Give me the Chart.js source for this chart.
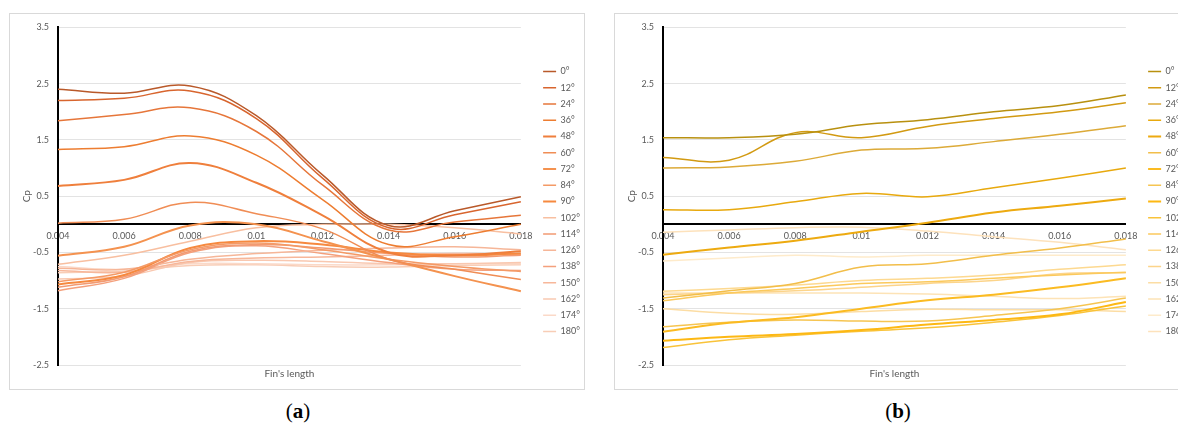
<!DOCTYPE html>
<html>
<head>
<meta charset="utf-8">
<script src="https://cdn.jsdelivr.net/npm/chart.js@4/dist/chart.umd.min.js"></script>
<style>
  html, body { margin: 0; padding: 0; background: #fff; }
  body { width: 1178px; height: 430px; overflow: hidden; position: relative; }
  .frame { position: absolute; top: 13px; width: 576px; height: 377px; box-sizing: border-box; border: 1px solid #D9D9D9; }
  .holder { position: absolute; top: 13px; width: 581px; height: 377px; }
  .cap { position: absolute; top: 399px; width: 60px; margin-left: -30px; text-align: center;
         font-family: "Liberation Serif", "DejaVu Serif", serif; font-size: 21px; color: #000; }
  .cap b { font-weight: bold; }
</style>
</head>
<body>
<div class="frame" style="left:9px"></div>
<div class="frame" style="left:614px"></div>
<div class="holder" style="left:9px"><canvas id="chartA" width="581" height="377"></canvas></div>
<div class="holder" style="left:614px"><canvas id="chartB" width="581" height="377"></canvas></div>
<div class="cap" style="left:298px">(<b>a</b>)</div>
<div class="cap" style="left:898px">(<b>b</b>)</div>

<script>
// Fin length positions (category axis) and pressure-coefficient gridline values
const finLength = ['0.004', '0.006', '0.008', '0.01', '0.012', '0.014', '0.016', '0.018'];
const cpTicks = [-2.5, -1.5, -0.5, 0.5, 1.5, 2.5, 3.5];
const angles = ['0°', '12°', '24°', '36°', '48°', '60°', '72°', '84°', '90°',
                '102°', '114°', '126°', '138°', '150°', '162°', '174°', '180°'];

// (a) Cp along the fin for each angle
const cpA0   = [2.40, 2.33, 2.46, 1.93, 0.88, -0.02, 0.24, 0.49];
const cpA12  = [2.20, 2.24, 2.37, 1.88, 0.82, -0.06, 0.17, 0.40];
const cpA24  = [1.84, 1.95, 2.07, 1.65, 0.70, -0.10, 0.04, 0.16];
const cpA36  = [1.33, 1.38, 1.57, 1.23, 0.44, -0.36, -0.22, 0.00];
const cpA48  = [0.68, 0.79, 1.09, 0.74, 0.16, -0.50, -0.55, -0.48];
const cpA60  = [0.02, 0.09, 0.39, 0.19, -0.08, -0.62, -0.80, -0.98];
const cpA72  = [-0.56, -0.40, -0.02, 0.00, -0.30, -0.62, -0.92, -1.19];
const cpA84  = [-1.02, -0.85, -0.45, -0.33, -0.45, -0.62, -0.75, -0.84];
const cpA90  = [-1.07, -0.90, -0.42, -0.30, -0.36, -0.50, -0.55, -0.52];
const cpA102 = [-0.71, -0.55, -0.30, -0.06, 0.00, 0.00, -0.06, -0.17];
const cpA114 = [-1.12, -0.93, -0.48, -0.36, -0.42, -0.52, -0.58, -0.55];
const cpA126 = [-0.78, -0.80, -0.62, -0.52, -0.46, -0.42, -0.40, -0.45];
const cpA138 = [-1.18, -0.96, -0.50, -0.38, -0.52, -0.68, -0.80, -0.82];
const cpA150 = [-0.82, -0.85, -0.66, -0.60, -0.58, -0.55, -0.52, -0.53];
const cpA162 = [-0.97, -0.92, -0.68, -0.64, -0.66, -0.70, -0.70, -0.68];
const cpA174 = [-0.75, -0.80, -0.70, -0.70, -0.72, -0.72, -0.70, -0.70];
const cpA180 = [-0.86, -0.83, -0.73, -0.72, -0.75, -0.76, -0.73, -0.72];

// (b) Cp along the fin for each angle
const cpB0   = [1.54, 1.54, 1.60, 1.77, 1.86, 2.00, 2.11, 2.30];
const cpB12  = [1.19, 1.14, 1.63, 1.54, 1.74, 1.88, 2.00, 2.16];
const cpB24  = [1.00, 1.02, 1.12, 1.32, 1.35, 1.47, 1.60, 1.75];
const cpB36  = [0.26, 0.26, 0.40, 0.55, 0.49, 0.65, 0.82, 1.00];
const cpB48  = [-0.54, -0.41, -0.29, -0.13, 0.03, 0.21, 0.33, 0.46];
const cpB60  = [-1.31, -1.18, -1.05, -0.76, -0.70, -0.55, -0.42, -0.26];
const cpB72  = [-1.91, -1.75, -1.65, -1.50, -1.35, -1.25, -1.12, -0.96];
const cpB84  = [-1.82, -1.74, -1.70, -1.72, -1.72, -1.62, -1.50, -1.31];
const cpB90  = [-2.07, -2.00, -1.95, -1.88, -1.78, -1.70, -1.60, -1.38];
const cpB102 = [-2.19, -2.05, -1.97, -1.90, -1.84, -1.74, -1.62, -1.45];
const cpB114 = [-1.36, -1.22, -1.14, -1.05, -1.02, -0.96, -0.90, -0.85];
const cpB126 = [-1.19, -1.14, -1.08, -1.00, -0.96, -0.90, -0.80, -0.72];
const cpB138 = [-1.25, -1.22, -1.18, -1.12, -1.05, -1.00, -0.88, -0.86];
const cpB150 = [-1.50, -1.58, -1.60, -1.55, -1.51, -1.52, -1.52, -1.55];
const cpB162 = [-1.22, -1.22, -1.22, -1.22, -1.24, -1.28, -1.32, -1.28];
const cpB174 = [-0.65, -0.60, -0.55, -0.58, -0.55, -0.55, -0.55, -0.55];
const cpB180 = [-0.14, -0.10, -0.06, -0.05, -0.12, -0.22, -0.32, -0.45];

const seriesA = [cpA0, cpA12, cpA24, cpA36, cpA48, cpA60, cpA72, cpA84, cpA90,
                 cpA102, cpA114, cpA126, cpA138, cpA150, cpA162, cpA174, cpA180];
const seriesB = [cpB0, cpB12, cpB24, cpB36, cpB48, cpB60, cpB72, cpB84, cpB90,
                 cpB102, cpB114, cpB126, cpB138, cpB150, cpB162, cpB174, cpB180];

const orangeShades = ['#B9592A', '#D8652E', '#E6763A', '#ED7D31', '#EF7F3C', '#F08D55', '#F4924F', '#F49A66', '#F6893F',
                      '#F8BFA0', '#F29A72', '#F6B698', '#F4A07C', '#F7B79A', '#F9C8B0', '#FBD9C8', '#F8CDB6'];
const goldShades   = ['#B8900F', '#D29A12', '#DCAA38', '#E8A90E', '#EDAA10', '#F2BE4A', '#FBBB22', '#F6C552', '#FDB813',
                      '#F9C33A', '#FBC95C', '#FDD990', '#FCD48A', '#FCDDA4', '#FDE3B6', '#FEEBCB', '#FDE2BC'];
const lineWidths   = [1.5, 1.5, 1.5, 1.5, 2, 1.5, 2, 1.5, 2, 1.5, 1.5, 1.5, 1.5, 1.5, 1.5, 1.5, 1.5];

const FONT = 'Lato, "Open Sans", sans-serif';
const GREY_TEXT = '#595959';
Chart.defaults.font.family = FONT;
Chart.defaults.color = GREY_TEXT;

// Axis titles: "Cp" centred on the value axis, "Fin's length" under the plot
const axisTitles = {
  id: 'axisTitles',
  afterDraw(chart) {
    const { ctx, chartArea: a } = chart;
    ctx.save();
    ctx.fillStyle = GREY_TEXT;
    ctx.font = '10px ' + FONT;
    ctx.textAlign = 'center';
    ctx.textBaseline = 'middle';
    ctx.fillText("Fin's length", (a.left + a.right) / 2, a.bottom + 9);
    ctx.translate(18, (a.top + a.bottom) / 2);
    ctx.rotate(-Math.PI / 2);
    ctx.fillText('Cp', 0, 0);
    ctx.restore();
  }
};

// Invisible spacer axis: reserves room between the plot and a neighbour
function spacer(position, size) {
  return {
    type: 'linear', position, display: true,
    ticks: { display: false }, grid: { display: false, drawTicks: false }, border: { display: false },
    afterFit(s) { if (s.isHorizontal()) s.height = size; else s.width = size; }
  };
}

function makeChart(id, series, colors) {
  const datasets = series.map((values, i) => ({
    label: angles[i],
    data: values,
    borderColor: colors[i],
    backgroundColor: colors[i],
    borderWidth: lineWidths[i],
    pointRadius: 0,
    pointHoverRadius: 0,
    tension: 0.4,
    fill: false,
    xAxisID: 'x',
    yAxisID: 'y'
  }));

  return new Chart(document.getElementById(id), {
    type: 'line',
    data: { labels: finLength, datasets },
    plugins: [axisTitles],
    options: {
      responsive: false,
      animation: false,
      devicePixelRatio: 1,
      layout: { padding: 0 },
      scales: {
        x: {
          type: 'category',
          position: { y: 0 },
          z: 1,
          offset: false,
          grid: { display: false, drawTicks: false },
          border: { display: true, color: '#000', width: 2 },
          ticks: { autoSkip: false, maxRotation: 0, padding: 6, color: GREY_TEXT, font: { size: 9 } }
        },
        y: {
          type: 'linear',
          position: 'left',
          min: -2.5,
          max: 3.5,
          afterBuildTicks(s) { s.ticks = cpTicks.map(v => ({ value: v })); },
          afterFit(s) { s.width = 49; },
          grid: { color: '#E3E3E3', lineWidth: 1, drawTicks: false },
          border: { display: true, color: '#000', width: 2 },
          ticks: { padding: 9, color: GREY_TEXT, font: { size: 9 }, callback: v => v.toFixed(1) }
        },
        padTop: spacer('top', 10),
        padBottom: spacer('bottom', 25),
        padRight: spacer('right', 15)
      },
      plugins: {
        title: { display: false },
        tooltip: { enabled: false },
        legend: {
          display: true,
          position: 'right',
          align: 'center',
          labels: {
            usePointStyle: true,
            pointStyle: 'line',
            pointStyleWidth: 13,
            boxHeight: 9,
            padding: 7.25,
            color: GREY_TEXT,
            font: { size: 9 }
          }
        }
      }
    }
  });
}

const chartA = makeChart('chartA', seriesA, orangeShades);
const chartB = makeChart('chartB', seriesB, goldShades);
</script>
</body>
</html>
